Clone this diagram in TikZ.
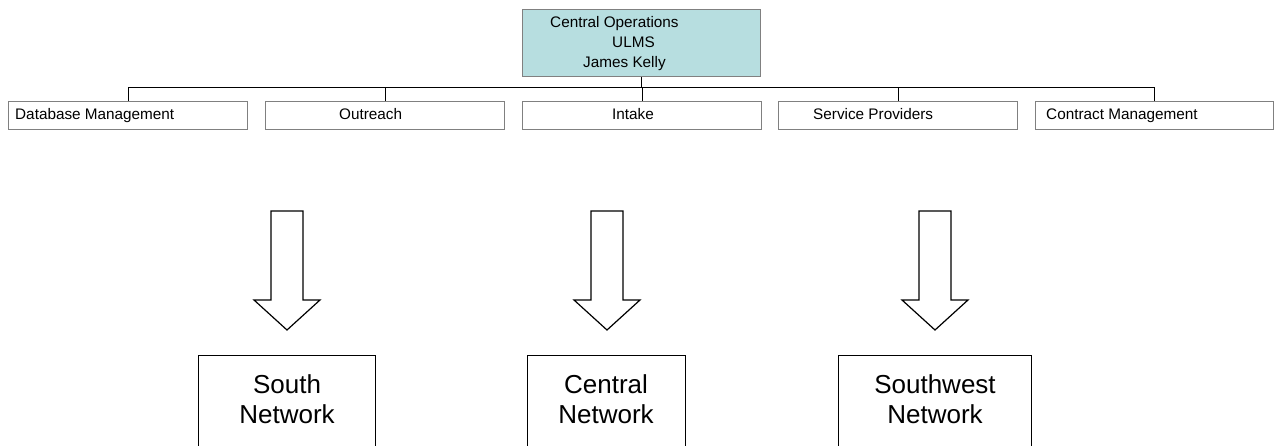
\documentclass[tikz,border=0pt]{standalone}
\usepackage{fontspec}
\setmainfont{Liberation Sans}
\definecolor{opsfill}{RGB}{183,222,224}
\definecolor{boxgray}{RGB}{128,128,128}
\tikzset{
  unitbox/.style={draw=boxgray, line width=1pt, fill=white, rectangle, inner sep=0pt,
    minimum width=239pt, minimum height=28pt, anchor=north west},
  opsbox/.style={draw=boxgray, line width=1pt, fill=opsfill, rectangle, inner sep=0pt,
    minimum width=238pt, minimum height=67pt, anchor=north west},
  netbox/.style={draw=black, line width=1.2pt, fill=white, rectangle, inner sep=0pt,
    minimum height=110pt, anchor=north west},
  smalltext/.style={inner sep=0pt, font=\fontsize{15.3}{20}\selectfont, anchor=base west},
  bigtext/.style={inner sep=0pt, align=center, font=\fontsize{26}{30}\selectfont, anchor=north},
  link/.style={draw=black, line width=1pt},
  arrowline/.style={draw=black, line width=1.2pt, fill=white, line join=miter},
  blockarrow/.pic={
    \path[arrowline] (-16,0) -- (16,0) -- (16,89) -- (33,89) -- (0,119)
      -- (-33,89) -- (-16,89) -- cycle;
  }
}
\begin{document}
\begin{tikzpicture}[x=1pt, y=-1pt]
\useasboundingbox (0,0) rectangle (1274,446);
\clip (0,0) rectangle (1274,446);
\fill[white] (0,0) rectangle (1274,446);

% head office
\node[opsbox] (ops) at (522,9) {};
\node[smalltext] (opstext) at (550,28) {Central Operations};
\node[smalltext] (opsulms) at (612,48) {ULMS};
\node[smalltext] (opsname) at (583,68) {James Kelly};

% units
\node[unitbox] (db)  at (8,101)    {};
\node[unitbox] (out) at (265,101)  {};
\node[unitbox] (int) at (522,101)  {};
\node[unitbox] (sp)  at (778,101)  {};
\node[unitbox, minimum width=238pt] (cm) at (1035,101) {};
\node[smalltext] (dbt)  at (15,120)   {Database Management};
\node[smalltext] (outt) at (339,120)  {Outreach};
\node[smalltext] (intt) at (612,120)  {Intake};
\node[smalltext] (spt)  at (813,120)  {Service Providers};
\node[smalltext] (cmt)  at (1046,120) {Contract Management};

% connector bus
\coordinate (busL) at (db.north |- 0,88);
\coordinate (busR) at (cm.north |- 0,88);
\draw[link] (busL) -- (busR);
\draw[link] (ops.south) -- (ops.south |- busL);
\foreach \u in {db,out,int,sp,cm}
  \draw[link] (\u.north) -- (\u.north |- busL);

% block arrows
\pic (arrS)  at (287,211) {blockarrow};
\pic (arrC)  at (607,211) {blockarrow};
\pic (arrSW) at (935,211) {blockarrow};

% networks
\node[netbox, minimum width=177pt] (south)  at (198,355) {};
\node[netbox, minimum width=158pt] (central) at (527,355) {};
\node[netbox, minimum width=193pt] (sw)     at (838,355) {};
\node[bigtext] (southt)   at (287,374) {South\\Network};
\node[bigtext] (centralt) at (606,374) {Central\\Network};
\node[bigtext] (swt)      at (935,374) {Southwest\\Network};
\end{tikzpicture}
\end{document}
